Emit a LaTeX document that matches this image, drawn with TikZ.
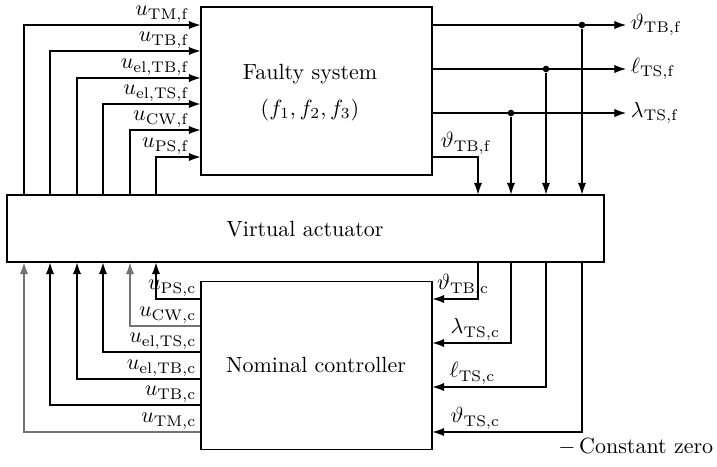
\documentclass[tikz,border=0pt]{standalone}
\usetikzlibrary{arrows.meta}
\definecolor{zerogray}{gray}{0.45}
\begin{document}
\begin{tikzpicture}[x=0.4547pt,y=-0.4547pt,
  box/.style={draw, line width=0.5pt, inner sep=0pt},
  sig/.style={line width=0.5pt, -{Latex[length=5.3pt,width=3.8pt]}},
  lbl/.style={inner sep=1pt, text=black},
  dot/.style={circle, fill, inner sep=0pt, minimum size=3pt}]
\useasboundingbox (0,0) rectangle (717,467);
% boxes
\node[box, minimum width={231*0.4547pt}, minimum height={168*0.4547pt}] (fs) at (316.5,91) {};
\node (fst) at (310,74) {Faulty system};
\node (fsf) at (310,110) {$(f_1, f_2, f_3)$};
\node[box, minimum width={597*0.4547pt}, minimum height={67*0.4547pt}] (va) at (305.5,228.5) {};
\node (vat) at (305,229) {Virtual actuator};
\node[box, minimum width={231*0.4547pt}, minimum height={168*0.4547pt}] (nc) at (316.5,365.5) {};
\node (nct) at (316,365) {Nominal controller};
% inputs to faulty system
\foreach \x/\y/\t in {24/25/{TM{,}f}, 50/51/{TB{,}f}, 77/78/{el{,}TB{,}f}, 103/104/{el{,}TS{,}f}, 130/130/{CW{,}f}, 156/157/{PS{,}f}}
  \draw[sig] (va.north -| \x,0) |- (fs.west |- 0,\y)
    node[pos=1, anchor=south east, lbl, xshift=-3.8pt] {$u_{\mathrm{\t}}$};
% controller outputs to virtual actuator
\foreach \x/\y/\t/\c in {156/299/{PS{,}c}/black, 130/326/{CW{,}c}/zerogray, 103/352/{el{,}TS{,}c}/black, 77/379/{el{,}TB{,}c}/black, 50/405/{TB{,}c}/black, 24/432/{TM{,}c}/zerogray}
  \draw[sig, color=\c] (nc.west |- 0,\y) -| (va.south -| \x,0)
    node[pos=0, anchor=south east, lbl, xshift=-0.6pt] {$u_{\mathrm{\t}}$};
% faulty system outputs
\node[dot] (d1) at (582,25) {};
\node[dot] (d2) at (546,69) {};
\node[dot] (d3) at (511,113) {};
\coordinate (y1) at (626,25);
\coordinate (y2) at (626,69);
\coordinate (y3) at (626,113);
\draw[sig] (fs.east |- d1) -- (y1) node[right, lbl, xshift=1pt] {$\vartheta_{\mathrm{TB{,}f}}$};
\draw[sig] (fs.east |- d2) -- (y2) node[right, lbl, xshift=1pt] {$\ell_{\mathrm{TS{,}f}}$};
\draw[sig] (fs.east |- d3) -- (y3) node[right, lbl, xshift=1pt] {$\lambda_{\mathrm{TS{,}f}}$};
\draw[sig] (d1) -- (va.north -| d1);
\draw[sig] (d2) -- (va.north -| d2);
\draw[sig] (d3) -- (va.north -| d3);
\draw[sig] (fs.east |- 0,157) -| (va.north -| 478,0)
  node[pos=0, anchor=south west, lbl, xshift=2.5pt] {$\vartheta_{\mathrm{TB{,}f}}$};
% virtual actuator to controller
\draw[sig] (va.south -| 478,0) |- (nc.east |- 0,299)
  node[pos=1, anchor=south west, lbl, xshift=0.8pt] {$\vartheta_{\mathrm{TB{,}c}}$};
\draw[sig] (va.south -| d3) |- (nc.east |- 0,343)
  node[pos=1, anchor=south west, lbl, xshift=7pt] {$\lambda_{\mathrm{TS{,}c}}$};
\draw[sig] (va.south -| d2) |- (nc.east |- 0,387)
  node[pos=1, anchor=south west, lbl, xshift=6.5pt] {$\ell_{\mathrm{TS{,}c}}$};
\draw[sig] (va.south -| d1) |- (nc.east |- 0,432)
  node[pos=1, anchor=south west, lbl, xshift=7pt] {$\vartheta_{\mathrm{TS{,}c}}$};
% legend
\node[anchor=west, inner sep=0pt] (lt) at (558,447) {$-$\,Constant zero};
\end{tikzpicture}
\end{document}
